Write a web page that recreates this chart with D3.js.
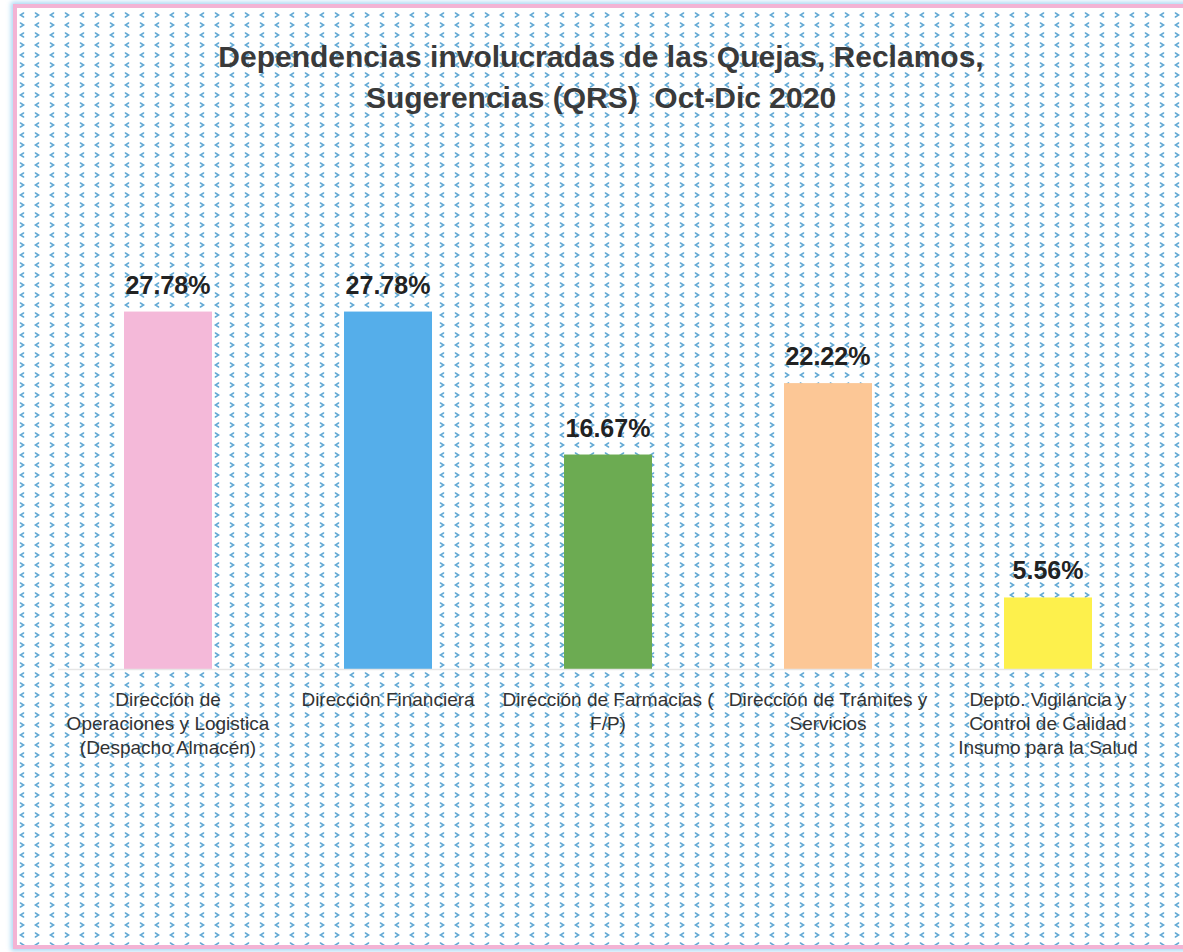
<!DOCTYPE html>
<meta charset="utf-8">
<head>
  <meta charset="utf-8">
  <title>Dependencias involucradas QRS</title>
  <script src="https://d3js.org/d3.v7.min.js"></script>
</head>
<style>
body { margin: 0; background: #fff; }
text { font-family: "Liberation Sans", Arial, sans-serif; }
.title { font-size: 30px; font-weight: bold; fill: #3a3a3a; white-space: pre; }
.value { font-size: 25px; font-weight: bold; fill: #222; }
.cat { font-size: 19px; fill: #333; }
</style>
<body>
<script>

// data
var categories = [
  ["Dirección de", "Operaciones y Logistica", "(Despacho Almacén)"],
  ["Dirección Financiera"],
  ["Dirección de Farmacias (", "F/P)"],
  ["Dirección de Trámites y", "Servicios"],
  ["Depto. Vigilancia y", "Control de Calidad", "Insumo para la Salud"]
];
var values = [27.78, 27.78, 16.67, 22.22, 5.56];
var valueLabels = ["27.78%", "27.78%", "16.67%", "22.22%", "5.56%"];
var colors = ["#f4b9d9", "#55aeea", "#6cab52", "#fcc796", "#fdf04c"];
var titleLines = ["Dependencias involucradas de las Quejas, Reclamos,",
                  "Sugerencias (QRS)  Oct-Dic 2020"];

var width = 1183, height = 952;

var svg = d3.select("body").append("svg")
    .attr("width", width)
    .attr("height", height);

// chevron pattern for the background
var defs = svg.append("defs");
var pat = defs.append("pattern")
    .attr("id", "zig")
    .attr("patternUnits", "userSpaceOnUse")
    .attr("width", 30)
    .attr("height", 20);
pat.append("rect").attr("width", 30).attr("height", 20).attr("fill", "#fff");
function chev(cx, cy, dir) {
  // dir 1 = ">", -1 = "<"
  pat.append("path")
    .attr("d", "M" + (cx - 1.6 * dir) + "," + (cy - 2) +
               "L" + (cx + 1.6 * dir) + "," + cy +
               "L" + (cx - 1.6 * dir) + "," + (cy + 2))
    .attr("fill", "none")
    .attr("stroke", "#3b93c9")
    .attr("stroke-width", 1.5)
    .attr("stroke-linecap", "round")
    .attr("opacity", 0.8);
}
chev(7, 5, -1); chev(22, 5, 1);
chev(7, 15, 1); chev(22, 15, -1);

var glow = defs.append("filter").attr("id", "glow")
    .attr("x", "-5%").attr("y", "-5%").attr("width", "110%").attr("height", "110%");
glow.append("feGaussianBlur").attr("stdDeviation", 2.5);

// frame
svg.append("rect")
    .attr("x", 15).attr("y", 6).attr("width", 1175).attr("height", 941)
    .attr("fill", "none").attr("stroke", "#a9d7f3").attr("stroke-width", 8)
    .attr("filter", "url(#glow)");
svg.append("rect")
    .attr("x", 15).attr("y", 6).attr("width", 1175).attr("height", 941)
    .attr("fill", "url(#zig)")
    .attr("stroke", "#f3b3d4").attr("stroke-width", 4);

// title
svg.append("g").selectAll("text")
    .data(titleLines)
  .enter().append("text")
    .attr("class", "title")
    .attr("x", 601)
    .attr("y", function(d, i) { return 67 + i * 41; })
    .attr("text-anchor", "middle")
    .text(function(d) { return d; });

// scales
var x = d3.scaleBand()
    .domain(d3.range(values.length))
    .range([58, 1158])
    .paddingInner(0.6)
    .paddingOuter(0.3);

var y = d3.scaleLinear()
    .domain([0, 30])
    .range([669, 283]);

// bars
svg.append("g").selectAll("rect")
    .data(values)
  .enter().append("rect")
    .attr("x", function(d, i) { return x(i); })
    .attr("y", function(d) { return y(d); })
    .attr("width", x.bandwidth())
    .attr("height", function(d) { return y(0) - y(d); })
    .attr("fill", function(d, i) { return colors[i]; });

// baseline
svg.append("line")
    .attr("x1", 58).attr("x2", 1158)
    .attr("y1", y(0) + 0.5).attr("y2", y(0) + 0.5)
    .attr("stroke", "#e6e6e6").attr("stroke-width", 1.5);

// value labels
svg.append("g").selectAll("text")
    .data(values)
  .enter().append("text")
    .attr("class", "value")
    .attr("x", function(d, i) { return x(i) + x.bandwidth() / 2; })
    .attr("y", function(d) { return y(d) - 18; })
    .attr("text-anchor", "middle")
    .text(function(d, i) { return valueLabels[i]; });

// category labels
var cat = svg.append("g").selectAll("text")
    .data(categories)
  .enter().append("text")
    .attr("class", "cat")
    .attr("text-anchor", "middle")
    .attr("transform", function(d, i) {
      return "translate(" + (x(i) + x.bandwidth() / 2) + ",706)";
    });
cat.selectAll("tspan")
    .data(function(d) { return d; })
  .enter().append("tspan")
    .attr("x", 0)
    .attr("y", function(d, j) { return j * 24; })
    .text(function(d) { return d; });

</script>
</body>
